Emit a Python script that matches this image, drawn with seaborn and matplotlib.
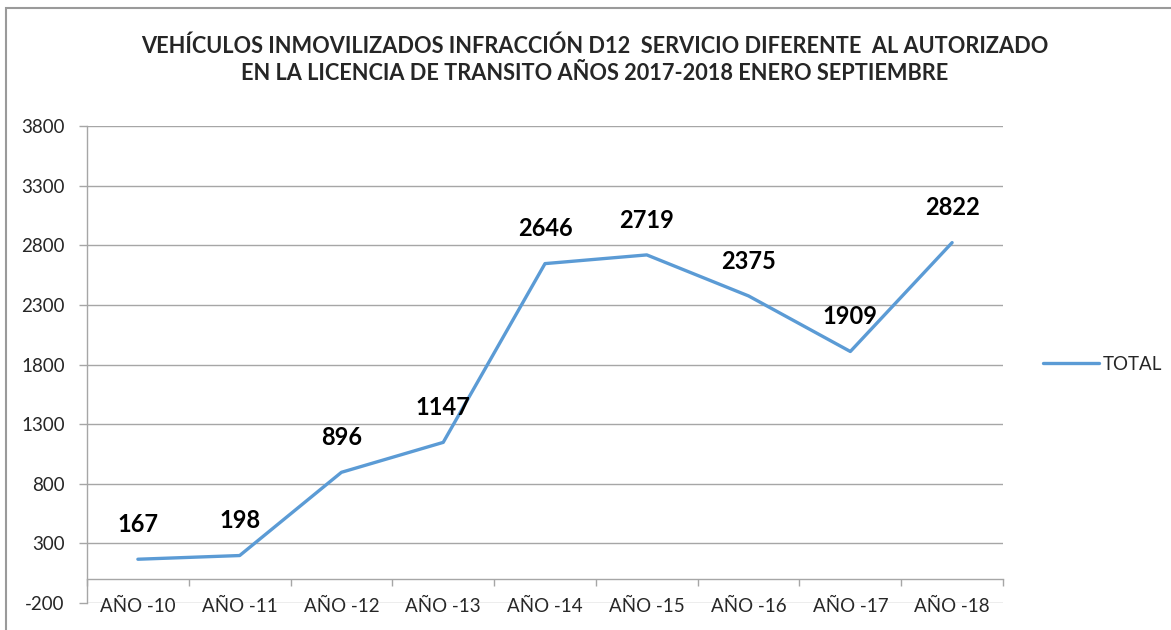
import matplotlib
matplotlib.use("Agg")
import matplotlib.pyplot as plt
import seaborn as sns
import pandas as pd
from matplotlib.patches import Rectangle
from matplotlib.ticker import FixedLocator

categories = ["AÑO -10", "AÑO -11", "AÑO -12", "AÑO -13", "AÑO -14",
              "AÑO -15", "AÑO -16", "AÑO -17", "AÑO -18"]
totals = [167, 198, 896, 1147, 2646, 2719, 2375, 1909, 2822]
y_ticks = [-200, 300, 800, 1300, 1800, 2300, 2800, 3300, 3800]
title = ("VEHÍCULOS INMOVILIZADOS INFRACCIÓN D12  SERVICIO DIFERENTE  AL AUTORIZADO\n"
         "EN LA LICENCIA DE TRANSITO AÑOS 2017-2018 ENERO SEPTIEMBRE")

sns.set_style("white")
plt.rcParams["font.family"] = ["Lato", "DejaVu Sans"]

df = pd.DataFrame({"cat": categories, "TOTAL": totals})
df["pos"] = range(len(categories))

fig = plt.figure(figsize=(11.71, 6.30), dpi=100)
ax = fig.add_axes([87/1171, (630-603)/630, (1003-87)/1171, (603-126)/630])

grid_c = "#A6A6A6"
line_c = "#5B9BD5"

sns.lineplot(data=df, x="pos", y="TOTAL", ax=ax, color=line_c, linewidth=2.4,
             label="TOTAL", legend=False)

ax.set_xlim(-0.5, len(categories) - 0.5)
ax.set_ylim(y_ticks[0], y_ticks[-1])
ax.set_yticks(y_ticks)
ax.set_yticklabels([str(v) for v in y_ticks], fontsize=13.5)
ax.yaxis.grid(True, color=grid_c, linewidth=1)
ax.set_axisbelow(True)
ax.tick_params(axis="y", length=6, width=1, color=grid_c, pad=10, left=True)

for s in ["top", "right"]:
    ax.spines[s].set_visible(False)
ax.spines["left"].set_color(grid_c)
ax.spines["left"].set_linewidth(1)
ax.spines["bottom"].set_position(("data", 0))
ax.spines["bottom"].set_color(grid_c)
ax.spines["bottom"].set_linewidth(1)

ax.set_xticks(df["pos"])
ax.set_xticklabels(categories, fontsize=13.5)
ax.xaxis.set_minor_locator(FixedLocator([i - 0.5 for i in range(len(categories) + 1)]))
ax.tick_params(axis="x", which="major", length=0, pad=13.5)
ax.tick_params(axis="x", which="minor", length=5, width=1, color=grid_c, bottom=True)
ax.set_xlabel("")
ax.set_ylabel("")

for x, v in zip(df["pos"], totals):
    ax.annotate(str(v), (x, v), xytext=(0, 25), textcoords="offset points",
                ha="center", va="center", fontsize=17, fontweight="bold", color="black")

fig.text(0.508, 0.905, title, ha="center", va="center", fontsize=15.7,
         fontweight="bold", linespacing=1.4)

leg = ax.legend(loc="center left", bbox_to_anchor=(1.025, (603-364)/477), frameon=False,
                fontsize=13.5, handlelength=3.0, handletextpad=0.2)

fig.patches.append(Rectangle((6/1171, -0.1), 1.2, (630-8)/630 + 0.1,
                             transform=fig.transFigure, fill=False,
                             edgecolor="#9A9A9A", linewidth=1.5))

fig.savefig("out.png", dpi=100, facecolor="white")
